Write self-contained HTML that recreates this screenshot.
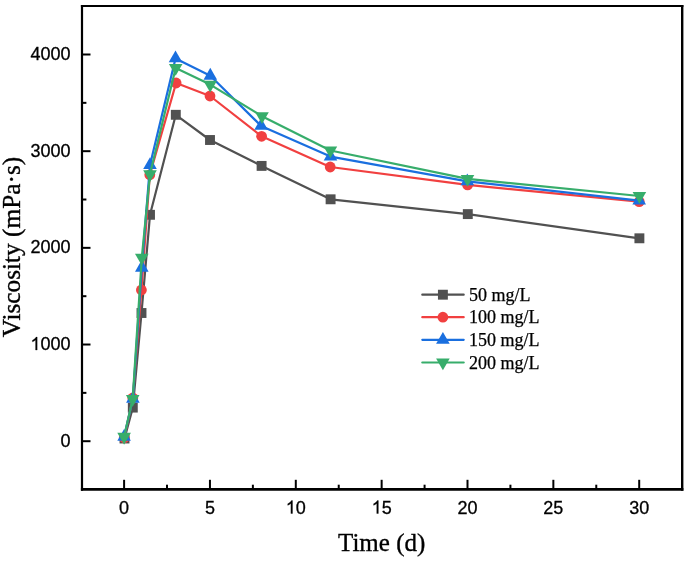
<!DOCTYPE html>
<html><head><meta charset="utf-8"><style>
html,body{margin:0;padding:0;background:#fff;}
body{width:685px;height:561px;overflow:hidden;}
svg{display:block;will-change:transform;}
.t{font-family:"Liberation Sans",sans-serif;font-size:18px;fill:#000;stroke:#000;stroke-width:0.3px;}
.l{font-family:"Liberation Serif",serif;font-size:18px;fill:#000;stroke:#000;stroke-width:0.25px;}
.a{font-family:"Liberation Serif",serif;font-size:25px;fill:#000;stroke:#000;stroke-width:0.35px;}
.a2{font-family:"Liberation Serif",serif;font-size:25.3px;fill:#000;stroke:#000;stroke-width:0.35px;}
</style></head><body>
<svg width="685" height="561" viewBox="0 0 685 561">
<rect width="685" height="561" fill="#fff"/>
<line x1="82.0" y1="5.0" x2="82.0" y2="490.7" stroke="#000" stroke-width="2.2"/>
<line x1="682.2" y1="5.0" x2="682.2" y2="490.7" stroke="#000" stroke-width="2.4"/>
<line x1="80.9" y1="6.0" x2="683.4000000000001" y2="6.0" stroke="#000" stroke-width="2.2"/>
<line x1="80.9" y1="489.4" x2="683.4000000000001" y2="489.4" stroke="#000" stroke-width="2.7"/>
<line x1="124.10" y1="489.4" x2="124.10" y2="479.8" stroke="#000" stroke-width="2"/>
<text x="119.095" y="513.500" class="t">0</text>
<line x1="209.95" y1="489.4" x2="209.95" y2="479.8" stroke="#000" stroke-width="2"/>
<text x="204.945" y="513.500" class="t">5</text>
<line x1="295.80" y1="489.4" x2="295.80" y2="479.8" stroke="#000" stroke-width="2"/>
<path transform="translate(285.789,513.500) scale(0.008789,-0.008789)" d="M763 0H583V1147Q518 1085 412.5 1023Q307 961 223 930V1104Q374 1175 487 1276Q600 1377 647 1472H763V0Z" fill="#000" stroke="#000" stroke-width="34.1"/><text x="295.800" y="513.500" class="t">0</text>
<line x1="381.65" y1="489.4" x2="381.65" y2="479.8" stroke="#000" stroke-width="2"/>
<path transform="translate(371.639,513.500) scale(0.008789,-0.008789)" d="M763 0H583V1147Q518 1085 412.5 1023Q307 961 223 930V1104Q374 1175 487 1276Q600 1377 647 1472H763V0Z" fill="#000" stroke="#000" stroke-width="34.1"/><text x="381.650" y="513.500" class="t">5</text>
<line x1="467.50" y1="489.4" x2="467.50" y2="479.8" stroke="#000" stroke-width="2"/>
<text x="457.489" y="513.500" class="t">20</text>
<line x1="553.35" y1="489.4" x2="553.35" y2="479.8" stroke="#000" stroke-width="2"/>
<text x="543.339" y="513.500" class="t">25</text>
<line x1="639.20" y1="489.4" x2="639.20" y2="479.8" stroke="#000" stroke-width="2"/>
<text x="629.189" y="513.500" class="t">30</text>
<line x1="167.02" y1="489.4" x2="167.02" y2="484.7" stroke="#000" stroke-width="2"/>
<line x1="252.88" y1="489.4" x2="252.88" y2="484.7" stroke="#000" stroke-width="2"/>
<line x1="338.73" y1="489.4" x2="338.73" y2="484.7" stroke="#000" stroke-width="2"/>
<line x1="424.58" y1="489.4" x2="424.58" y2="484.7" stroke="#000" stroke-width="2"/>
<line x1="510.42" y1="489.4" x2="510.42" y2="484.7" stroke="#000" stroke-width="2"/>
<line x1="596.27" y1="489.4" x2="596.27" y2="484.7" stroke="#000" stroke-width="2"/>
<line x1="82.0" y1="441.20" x2="90.5" y2="441.20" stroke="#000" stroke-width="2"/>
<text x="60.489" y="446.700" class="t">0</text>
<line x1="82.0" y1="344.52" x2="90.5" y2="344.52" stroke="#000" stroke-width="2"/>
<path transform="translate(30.457,350.025) scale(0.008789,-0.008789)" d="M763 0H583V1147Q518 1085 412.5 1023Q307 961 223 930V1104Q374 1175 487 1276Q600 1377 647 1472H763V0Z" fill="#000" stroke="#000" stroke-width="34.1"/><text x="40.468" y="350.025" class="t">000</text>
<line x1="82.0" y1="247.85" x2="90.5" y2="247.85" stroke="#000" stroke-width="2"/>
<text x="30.457" y="253.350" class="t">2000</text>
<line x1="82.0" y1="151.18" x2="90.5" y2="151.18" stroke="#000" stroke-width="2"/>
<text x="30.457" y="156.675" class="t">3000</text>
<line x1="82.0" y1="54.50" x2="90.5" y2="54.50" stroke="#000" stroke-width="2"/>
<text x="30.457" y="60.000" class="t">4000</text>
<line x1="82.0" y1="392.86" x2="86.4" y2="392.86" stroke="#000" stroke-width="2"/>
<line x1="82.0" y1="296.19" x2="86.4" y2="296.19" stroke="#000" stroke-width="2"/>
<line x1="82.0" y1="199.51" x2="86.4" y2="199.51" stroke="#000" stroke-width="2"/>
<line x1="82.0" y1="102.84" x2="86.4" y2="102.84" stroke="#000" stroke-width="2"/>
<polyline fill="none" stroke="#515151" stroke-width="2.2" stroke-linejoin="round" points="124.50,438.50 132.80,407.60 141.50,313.00 150.00,214.80 175.80,114.80 210.00,140.00 261.60,165.90 330.60,199.30 467.80,214.10 639.40,238.30"/><rect x="119.55" y="433.55" width="9.9" height="9.9" fill="#515151"/><rect x="127.85" y="402.65" width="9.9" height="9.9" fill="#515151"/><rect x="136.55" y="308.05" width="9.9" height="9.9" fill="#515151"/><rect x="145.05" y="209.85" width="9.9" height="9.9" fill="#515151"/><rect x="170.85" y="109.85" width="9.9" height="9.9" fill="#515151"/><rect x="205.05" y="135.05" width="9.9" height="9.9" fill="#515151"/><rect x="256.65" y="160.95" width="9.9" height="9.9" fill="#515151"/><rect x="325.65" y="194.35" width="9.9" height="9.9" fill="#515151"/><rect x="462.85" y="209.15" width="9.9" height="9.9" fill="#515151"/><rect x="634.45" y="233.35" width="9.9" height="9.9" fill="#515151"/>
<polyline fill="none" stroke="#F14040" stroke-width="2.2" stroke-linejoin="round" points="124.30,437.80 132.80,398.00 141.40,290.00 149.80,174.80 176.10,83.00 210.00,96.00 261.60,136.30 330.20,167.00 467.60,184.90 639.20,201.60"/><circle cx="124.30" cy="437.80" r="5.4" fill="#F14040"/><circle cx="132.80" cy="398.00" r="5.4" fill="#F14040"/><circle cx="141.40" cy="290.00" r="5.4" fill="#F14040"/><circle cx="149.80" cy="174.80" r="5.4" fill="#F14040"/><circle cx="176.10" cy="83.00" r="5.4" fill="#F14040"/><circle cx="210.00" cy="96.00" r="5.4" fill="#F14040"/><circle cx="261.60" cy="136.30" r="5.4" fill="#F14040"/><circle cx="330.20" cy="167.00" r="5.4" fill="#F14040"/><circle cx="467.60" cy="184.90" r="5.4" fill="#F14040"/><circle cx="639.20" cy="201.60" r="5.4" fill="#F14040"/>
<polyline fill="none" stroke="#1A6FDF" stroke-width="2.2" stroke-linejoin="round" points="124.10,436.80 132.90,398.70 141.80,267.70 150.00,165.00 175.50,58.40 210.30,75.70 261.10,125.90 330.50,156.60 467.30,181.40 639.20,200.60"/><polygon points="124.10,428.93 130.90,440.73 117.30,440.73" fill="#1A6FDF"/><polygon points="132.90,390.83 139.70,402.63 126.10,402.63" fill="#1A6FDF"/><polygon points="141.80,259.83 148.60,271.63 135.00,271.63" fill="#1A6FDF"/><polygon points="150.00,157.13 156.80,168.93 143.20,168.93" fill="#1A6FDF"/><polygon points="175.50,50.53 182.30,62.33 168.70,62.33" fill="#1A6FDF"/><polygon points="210.30,67.83 217.10,79.63 203.50,79.63" fill="#1A6FDF"/><polygon points="261.10,118.03 267.90,129.83 254.30,129.83" fill="#1A6FDF"/><polygon points="330.50,148.73 337.30,160.53 323.70,160.53" fill="#1A6FDF"/><polygon points="467.30,173.53 474.10,185.33 460.50,185.33" fill="#1A6FDF"/><polygon points="639.20,192.73 646.00,204.53 632.40,204.53" fill="#1A6FDF"/>
<polyline fill="none" stroke="#37AD6B" stroke-width="2.2" stroke-linejoin="round" points="124.10,436.80 132.70,398.90 141.80,257.70 150.00,174.10 175.70,68.00 210.20,84.60 262.00,116.20 330.40,150.50 467.50,178.90 639.40,196.00"/><polygon points="117.30,432.87 130.90,432.87 124.10,444.67" fill="#37AD6B"/><polygon points="125.90,394.97 139.50,394.97 132.70,406.77" fill="#37AD6B"/><polygon points="135.00,253.77 148.60,253.77 141.80,265.57" fill="#37AD6B"/><polygon points="143.20,170.17 156.80,170.17 150.00,181.97" fill="#37AD6B"/><polygon points="168.90,64.07 182.50,64.07 175.70,75.87" fill="#37AD6B"/><polygon points="203.40,80.67 217.00,80.67 210.20,92.47" fill="#37AD6B"/><polygon points="255.20,112.27 268.80,112.27 262.00,124.07" fill="#37AD6B"/><polygon points="323.60,146.57 337.20,146.57 330.40,158.37" fill="#37AD6B"/><polygon points="460.70,174.97 474.30,174.97 467.50,186.77" fill="#37AD6B"/><polygon points="632.60,192.07 646.20,192.07 639.40,203.87" fill="#37AD6B"/>
<line x1="422.3" y1="294.7" x2="463.7" y2="294.7" stroke="#515151" stroke-width="2.2" stroke-linecap="round"/>
<rect x="437.95" y="289.75" width="9.9" height="9.9" fill="#515151"/>
<text x="469" y="300.80" class="l">50 mg/L</text>
<line x1="422.3" y1="317.2" x2="463.7" y2="317.2" stroke="#F14040" stroke-width="2.2" stroke-linecap="round"/>
<circle cx="442.90" cy="317.20" r="5.4" fill="#F14040"/>
<text x="469" y="323.30" class="l">100 mg/L</text>
<line x1="422.3" y1="339.8" x2="463.7" y2="339.8" stroke="#1A6FDF" stroke-width="2.2" stroke-linecap="round"/>
<polygon points="442.90,331.93 449.70,343.73 436.10,343.73" fill="#1A6FDF"/>
<text x="469" y="345.90" class="l">150 mg/L</text>
<line x1="422.3" y1="362.5" x2="463.7" y2="362.5" stroke="#37AD6B" stroke-width="2.2" stroke-linecap="round"/>
<polygon points="436.10,358.57 449.70,358.57 442.90,370.37" fill="#37AD6B"/>
<text x="469" y="368.60" class="l">200 mg/L</text>
<text x="338" y="551.4" class="a">Time (d)</text>
<text transform="translate(19.8,337.3) rotate(-90)" x="0" y="0" class="a2">Viscosity (mPa·s)</text>
</svg>
</body></html>
